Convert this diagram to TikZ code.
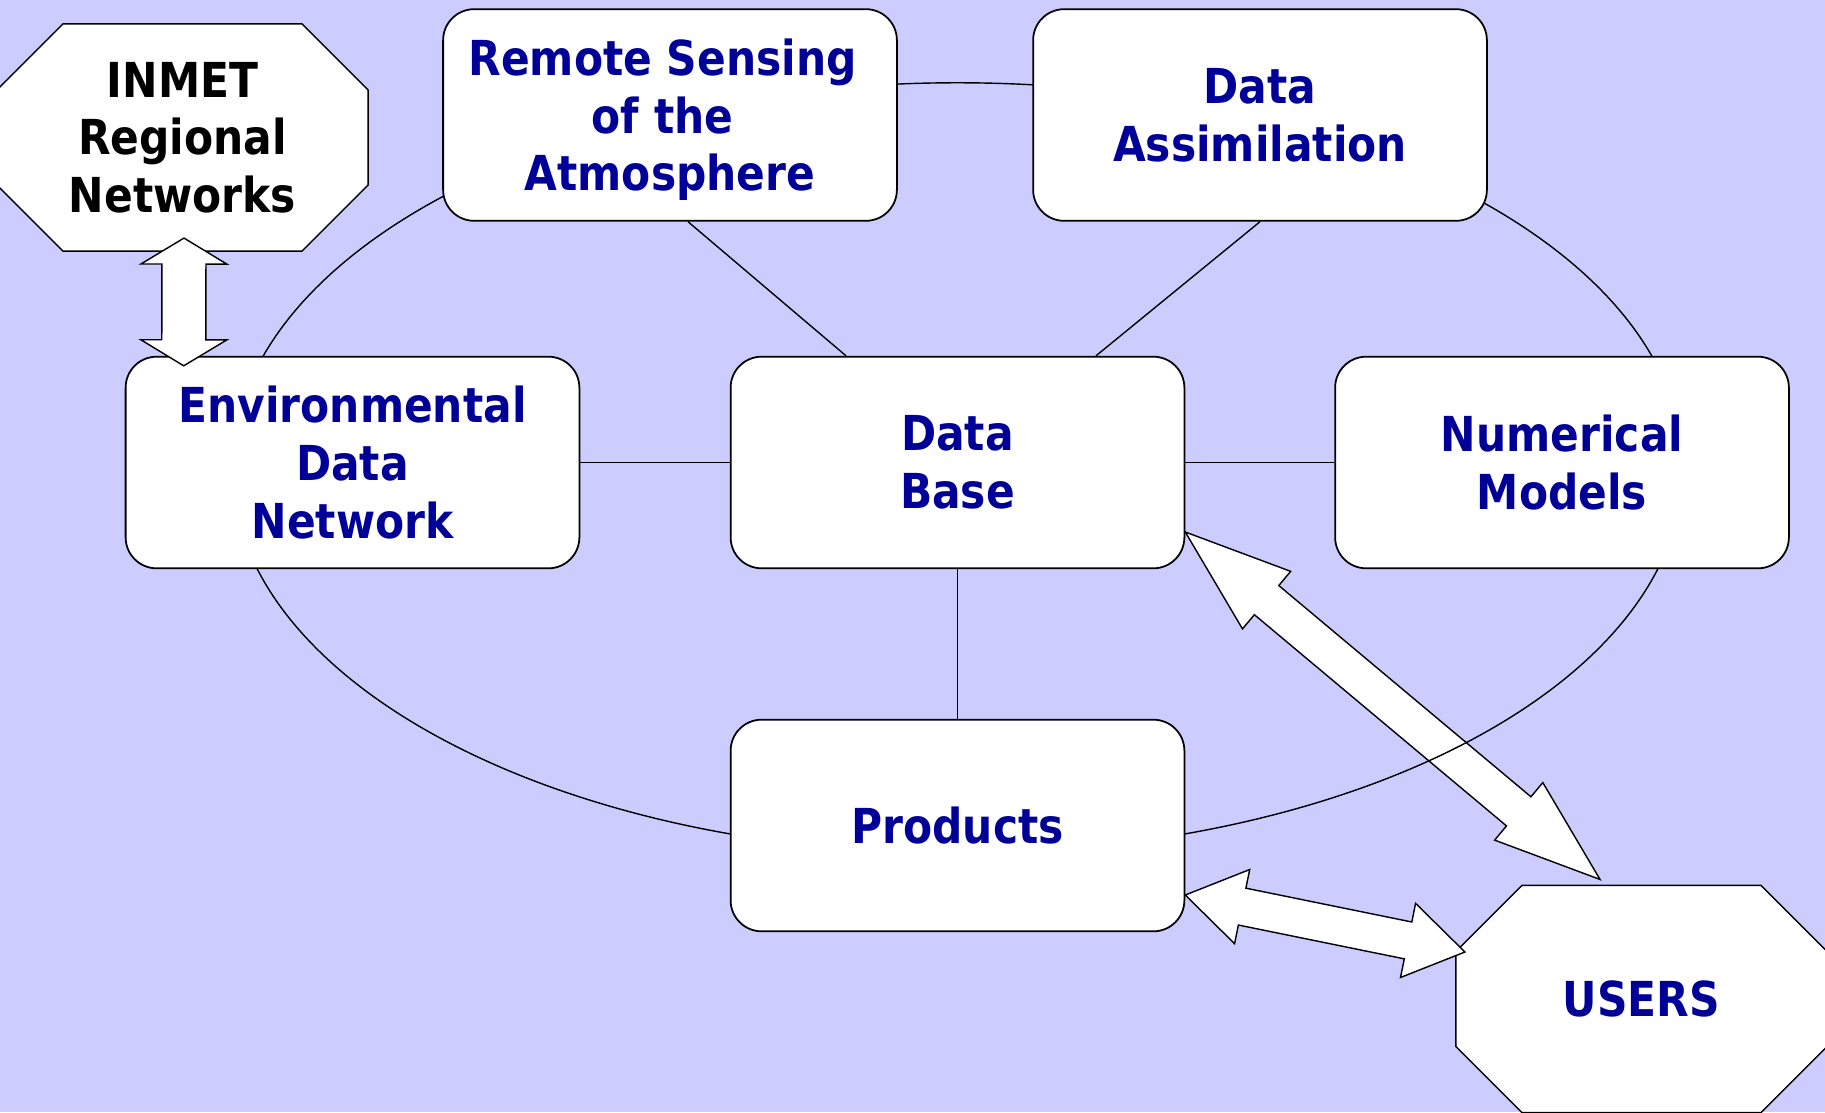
\documentclass[tikz,border=0pt]{standalone}
\usepackage{fontspec}
\newfontfamily\diagfont[FakeStretch=0.88]{DejaVu Sans}
\usetikzlibrary{calc,backgrounds}
\definecolor{slidebg}{RGB}{204,204,255}
\definecolor{boxtext}{RGB}{0,0,153}
\newcommand{\blockarrow}[5]{%
	\filldraw[fill=white] (#1)
		-- ($ ($(#1)!#3!(#2)$) !#4!90:(#2) $)
		-- ($ ($(#1)!#3!(#2)$) !#5!90:(#2) $)
		-- ($ ($(#2)!#3!(#1)$) !#5!-90:(#1) $)
		-- ($ ($(#2)!#3!(#1)$) !#4!-90:(#1) $)
		-- (#2)
		-- ($ ($(#2)!#3!(#1)$) !#4!90:(#1) $)
		-- ($ ($(#2)!#3!(#1)$) !#5!90:(#1) $)
		-- ($ ($(#1)!#3!(#2)$) !#5!-90:(#2) $)
		-- ($ ($(#1)!#3!(#2)$) !#4!-90:(#2) $)
		-- cycle;}
\newcommand{\chamferbox}[2]{%
	\filldraw[fill=white] ($(#1.north west)+(#2,0)$) -- ($(#1.north east)+(-#2,0)$)
		-- ($(#1.north east)+(0,#2)$) -- ($(#1.south east)+(0,-#2)$)
		-- ($(#1.south east)+(-#2,0)$) -- ($(#1.south west)+(#2,0)$)
		-- ($(#1.south west)+(0,-#2)$) -- ($(#1.north west)+(0,#2)$) -- cycle;}

\begin{document}
\begin{tikzpicture}[x=0.01cm, y=-0.01cm, line width=0.5pt,
		label font/.style={font=\diagfont\bfseries\fontsize{13.7pt}{16.4pt}\selectfont},
		box/.style={label font, draw, fill=white, rounded corners=0.31cm, minimum width=4.535cm, minimum height=2.115cm, align=center, text=boxtext},
		octo/.style={label font, minimum width=3.71cm, minimum height=2.27cm, inner sep=0pt, outer sep=0pt, align=center}]
			
			\useasboundingbox (0,0) rectangle (1825,1112);
			
			\node[octo] (inmet) at (182.5,137.5) {INMET\\Regional\\Networks};
			\node[octo, text=boxtext] (users) at (1641.5,999) {USERS};
			
			\node[box] (rs) at (670,115) {Remote Sensing\kern4.2pt\\of the\kern4.2pt\\\smash{Atmosphere}};
			\node[box] (da) at (1260,115) {Data\\Assimilation};
			\node[box] (env) at (352.5,462.5) {Environmental\\Data\\Network};
			\node[box] (db) at (957.5,462.5) {Data\\Base};
			\node[box] (num) at (1562,462.5) {Numerical\\Models};
			\node[box] (prod) at (957.5,825.5) {Products};
			
			\coordinate (dbtip) at ($(db.east)+(0,69.5)$);
			\coordinate (usertip) at ($(users.north)+(-41.5,-6)$);
			\coordinate (prodtip) at ($(prod.east)+(0,69.5)$);
			\coordinate (usertip2) at ($(users.west)+(9,-47)$);
			\coordinate (inmettip) at ($(inmet.south)+(1.5,-13)$);
			\coordinate (envtip) at ($(env.north west)+(59,10)$);
			
			\begin{pgfonlayer}{background}
			\fill[slidebg] (0,0) rectangle (1825,1112);
			\blockarrow{dbtip}{usertip}{1.06cm}{0.375cm}{0.19cm}
			\draw[] (957.5,468) ellipse [x radius=7.25cm, y radius=3.85cm];
			\draw[] (env.east) -- (db.west);
			\draw[] (db.east) -- (num.west);
			\draw[] (db.south) -- (prod.north);
			\draw[] ($(rs.south)+(18,0)$) -- ($(db.north)+(-111.5,0)$);
			\draw[] (da.south) -- ($(db.north)+(138.5,0)$);
			\chamferbox{inmet}{66}
			\chamferbox{users}{66}
			\end{pgfonlayer}
			
			\blockarrow{inmettip}{envtip}{0.26cm}{0.43cm}{0.22cm}
			\blockarrow{prodtip}{usertip2}{0.58cm}{0.378cm}{0.188cm}
			
\end{tikzpicture}
\end{document}
